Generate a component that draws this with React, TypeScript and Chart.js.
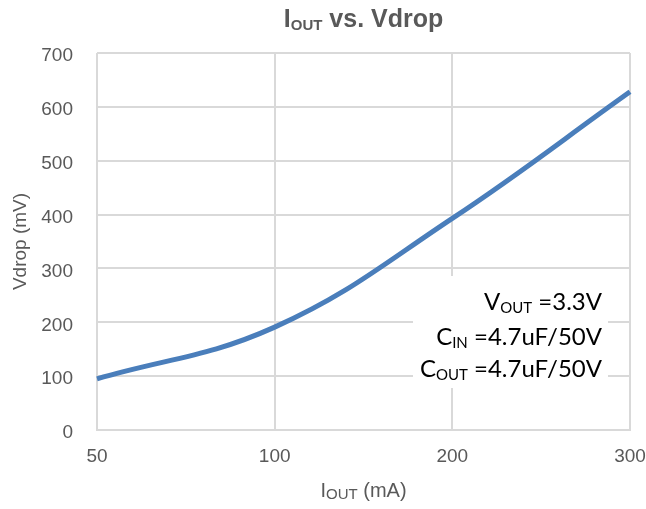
import React, { useEffect, useRef } from "react";
import { Chart, registerables } from "chart.js";

Chart.register(...registerables);

const categories = ["50", "100", "200", "300"];
const vdrop = [95, 191, 393, 628];
const yTicks = [0, 100, 200, 300, 400, 500, 600, 700];

const TEXT = "#595959";
const GRID = "#d9d9d9";
const LINE = "#4a7ebb";
const AXIS_FONT = "'Liberation Sans', Arial, sans-serif";
const NOTE_FONT = "Lato, 'Open Sans', sans-serif";

function drawSub(
  ctx: CanvasRenderingContext2D,
  parts: { t: string; sub?: boolean }[],
  x: number,
  y: number,
  size: number,
  subSize: number,
  subDrop: number,
  family: string,
  weight: string,
  align: "center" | "right"
) {
  const widths = parts.map((p) => {
    ctx.font = `${weight} ${p.sub ? subSize : size}px ${family}`;
    return ctx.measureText(p.t).width;
  });
  const total = widths.reduce((a, b) => a + b, 0);
  let cx = align === "center" ? x - total / 2 : x - total;
  ctx.textAlign = "left";
  ctx.textBaseline = "alphabetic";
  parts.forEach((p, i) => {
    ctx.font = `${weight} ${p.sub ? subSize : size}px ${family}`;
    ctx.fillText(p.t, cx, p.sub ? y + subDrop : y);
    cx += widths[i];
  });
}

const textPlugin = {
  id: "texts",
  beforeDatasetsDraw(chart: any) {
    const ctx = chart.ctx as CanvasRenderingContext2D;
    ctx.save();
    ctx.fillStyle = "#ffffff";
    ctx.fillRect(413, 276, 195, 112);
    ctx.fillStyle = "#000000";
    drawSub(ctx, [{ t: "V" }, { t: "OUT", sub: true }, { t: " =3.3V" }], 602, 310, 24, 15, 3, NOTE_FONT, "normal", "right");
    drawSub(ctx, [{ t: "C" }, { t: "IN", sub: true }, { t: " =4.7uF/50V" }], 602, 345, 24, 15, 3, NOTE_FONT, "normal", "right");
    drawSub(ctx, [{ t: "C" }, { t: "OUT", sub: true }, { t: " =4.7uF/50V" }], 602, 377, 24, 15, 3, NOTE_FONT, "normal", "right");
    ctx.restore();
  },
  afterDraw(chart: any) {
    const ctx = chart.ctx as CanvasRenderingContext2D;
    const area = chart.chartArea;
    const cx = (area.left + area.right) / 2;
    ctx.save();
    ctx.fillStyle = TEXT;
    drawSub(ctx, [{ t: "I" }, { t: "OUT", sub: true }, { t: " vs. Vdrop" }], cx, 27, 25, 15, 3, AXIS_FONT, "bold", "center");
    drawSub(ctx, [{ t: "I" }, { t: "OUT", sub: true }, { t: " (mA)" }], cx, 497, 20, 15, 2, AXIS_FONT, "normal", "center");
    ctx.restore();
  },
};

export default function App() {
  const ref = useRef<HTMLCanvasElement>(null);
  useEffect(() => {
    document.body.style.margin = "0";
    const chart = new Chart(ref.current!, {
      type: "line",
      data: {
        labels: categories,
        datasets: [
          {
            data: vdrop,
            borderColor: LINE,
            borderWidth: 5,
            pointRadius: 0,
            tension: 0.4,
            fill: false,
          },
        ],
      },
      options: {
        responsive: false,
        animation: false,
        layout: { padding: { top: 53, right: 16, left: 0, bottom: 0 } },
        plugins: { legend: { display: false }, tooltip: { enabled: false }, title: { display: false } },
        scales: {
          x: {
            type: "category",
            offset: false,
            grid: { color: GRID, lineWidth: 2, drawTicks: false },
            border: { color: GRID, width: 2 },
            ticks: { color: TEXT, font: { family: AXIS_FONT, size: 19 }, padding: 15, maxRotation: 0 },
            afterFit: (s: any) => {
              s.height = 79;
              s.paddingLeft = 0;
              s.paddingRight = 0;
            },
          },
          y: {
            min: 0,
            max: 700,
            afterBuildTicks: (s: any) => { s.ticks = yTicks.map((v) => ({ value: v })); },
            grid: { color: GRID, lineWidth: 2, drawTicks: false },
            border: { display: false },
            ticks: { color: TEXT, font: { family: AXIS_FONT, size: 19 }, padding: 24, labelOffset: 3 },
            title: { display: true, text: "Vdrop (mV)", color: TEXT, font: { family: AXIS_FONT, size: 19 }, padding: { top: 9, bottom: 0 } },
            afterFit: (s: any) => {
              s.width = 97;
              s.paddingTop = 0;
              s.paddingBottom = 0;
            },
          },
        },
      },
      plugins: [textPlugin],
    });
    return () => chart.destroy();
  }, []);
  return <canvas ref={ref} width={646} height={509} style={{ display: "block" }} />;
}
